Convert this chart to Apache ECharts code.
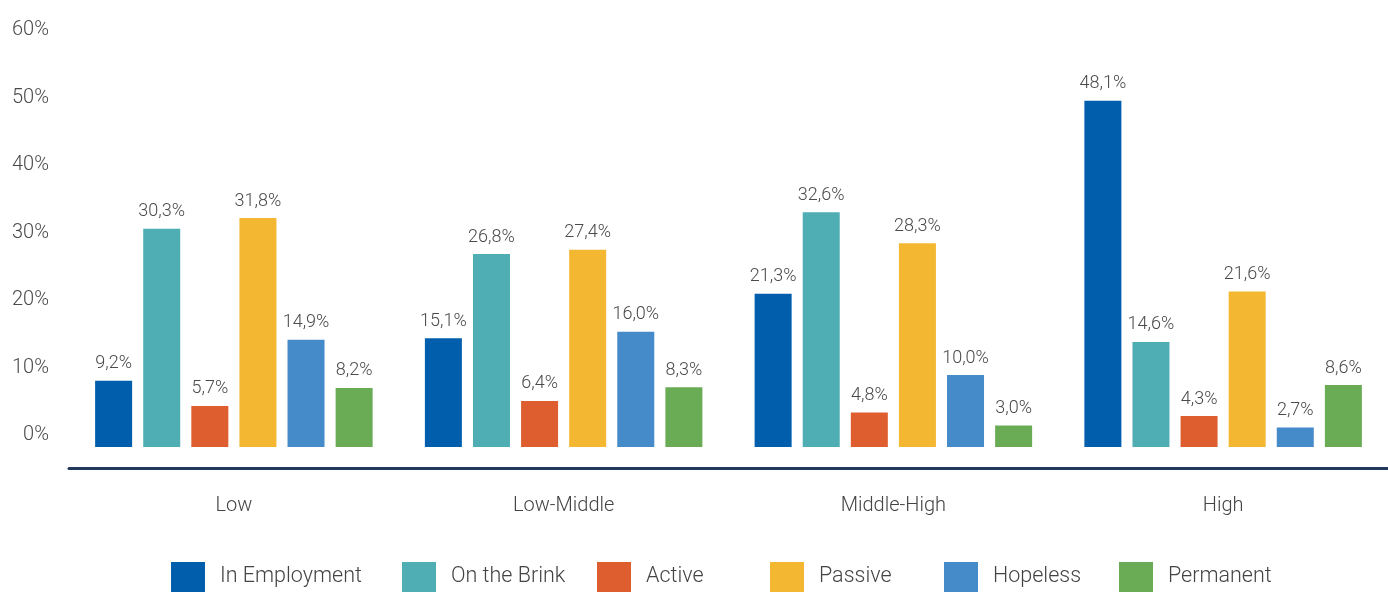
<!DOCTYPE html>
<html>
<head>
<meta charset="utf-8">
<script src="https://cdn.jsdelivr.net/npm/echarts@6/dist/echarts.min.js"></script>
<style>
  html, body { margin: 0; padding: 0; background: #ffffff; }
  #chart { width: 1388px; height: 592px; }
</style>
</head>
<body>
<div id="chart"></div>
<script>
// Income groups along the x axis
const categories = ['Low', 'Low-Middle', 'Middle-High', 'High'];

// Share of each group (%) per segment
const seriesNames = ['In Employment', 'On the Brink', 'Active', 'Passive', 'Hopeless', 'Permanent'];
const inEmployment = [9.2, 15.1, 21.3, 48.1];
const onTheBrink   = [30.3, 26.8, 32.6, 14.6];
const active       = [5.7, 6.4, 4.8, 4.3];
const passive      = [31.8, 27.4, 28.3, 21.6];
const hopeless     = [14.9, 16.0, 10.0, 2.7];
const permanent    = [8.2, 8.3, 3.0, 8.6];
const seriesValues = [inEmployment, onTheBrink, active, passive, hopeless, permanent];

// Value axis tick labels
const yTicks = [0, 10, 20, 30, 40, 50, 60];

const colors = ['#015ead', '#4eaeb4', '#de5e30', '#f3b732', '#458ac9', '#6aab55'];
const legendLeft = [171, 402, 597, 770, 944, 1119];

const FONT = 'Roboto, "Noto Sans", sans-serif';
const fmt = v => v.toFixed(1).replace('.', ',') + '%';

const chart = echarts.init(document.getElementById('chart'), null, { renderer: 'canvas' });

const option = {
  backgroundColor: '#ffffff',
  textStyle: { fontFamily: FONT },
  grid: [
    // grid carrying the percentage scale labels
    { left: 69, right: 0, top: 30, bottom: 157 },
    // grid carrying the bars
    { left: 69, right: 0, top: 15, bottom: 145 }
  ],
  xAxis: [
    { type: 'category', gridIndex: 0, data: categories, show: false },
    {
      type: 'category', gridIndex: 1, data: categories,
      offset: 21,
      axisLine: { show: true, onZero: false, lineStyle: { color: '#23395b', width: 3 } },
      axisTick: { show: false },
      axisLabel: { color: '#444444', fontSize: 20, fontWeight: 300, margin: 28, fontFamily: FONT }
    }
  ],
  yAxis: [
    {
      type: 'value', gridIndex: 0, min: yTicks[0], max: yTicks[yTicks.length - 1], interval: 10,
      axisLine: { show: false }, axisTick: { show: false }, splitLine: { show: false },
      axisLabel: {
        color: '#4a4a4a', fontSize: 20, fontWeight: 300, margin: 20, fontFamily: FONT,
        formatter: v => (yTicks.indexOf(v) >= 0 ? v + '%' : '')
      }
    },
    {
      type: 'value', gridIndex: 1, min: 0, max: 60, show: false,
      splitLine: { show: false }
    }
  ],
  legend: seriesNames.map((name, i) => ({
    data: [name],
    left: legendLeft[i],
    top: 562,
    padding: 0,
    icon: 'rect',
    itemWidth: 34,
    itemHeight: 30,
    selectedMode: false,
    textStyle: {
      color: '#444444', fontSize: 21.5, fontWeight: 300, fontFamily: FONT,
      padding: [0, 0, 0, 10]
    }
  })),
  series: seriesNames.map((name, i) => ({
    name: name,
    type: 'bar',
    xAxisIndex: 1,
    yAxisIndex: 1,
    data: seriesValues[i],
    barWidth: 37,
    barGap: '30%',
    itemStyle: { color: colors[i] },
    label: {
      show: true,
      position: 'top',
      distance: 8,
      color: '#4a4a4a',
      fontSize: 18,
      fontWeight: 300,
      fontFamily: FONT,
      formatter: p => fmt(p.value)
    },
    animation: false
  }))
};

chart.setOption(option);
</script>
</body>
</html>
